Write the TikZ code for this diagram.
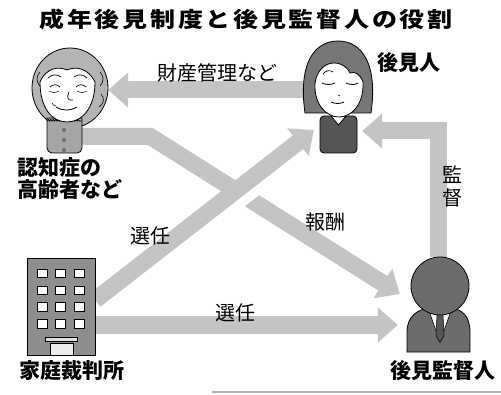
\documentclass[tikz,border=0pt]{standalone}
\usepackage{fontspec}
\setmainfont{Noto Sans CJK JP}
\usetikzlibrary{arrows.meta,positioning,decorations.pathmorphing}
\definecolor{arrowgray}{HTML}{C4C4C4}
\definecolor{hairgray}{HTML}{B4B4B4}
\definecolor{bodygray}{HTML}{A6A6A6}
\definecolor{darkhair}{HTML}{767676}
\definecolor{suitdark}{HTML}{555555}
\definecolor{courtgray}{HTML}{8E8E8E}
\definecolor{mangray}{HTML}{6C6C6C}
\tikzset{
  fatarrow/.style={line width=17pt,draw=arrowgray,line join=miter,-{Triangle[width=34pt,length=20pt]}},
  figbox/.style={inner sep=0pt,draw=none},
  namelabel/.style={font=\bfseries\fontsize{21}{22}\selectfont,inner sep=0pt},
  flowlabel/.style={font=\fontsize{20}{23}\selectfont,inner sep=0pt},
  titletext/.style={font=\bfseries\fontsize{25}{27}\selectfont\addfontfeature{LetterSpace=11},inner sep=0pt},
  outline/.style={draw=black,line width=0.8pt}
}

\begin{document}
\begin{tikzpicture}[x=1pt,y=1pt]
  \useasboundingbox (0,0) rectangle (501,394);

  % title
  \node[titletext] (title) at (246,375) {\scalebox{1}[0.85]{成年後見制度と後見監督人の役割}};

  % places of the four figures
  \node[figbox,minimum width=76pt,minimum height=106pt] (senior) at (70,294) {};
  \node[figbox,minimum width=35pt,minimum height=33pt] (seniorbody) at (64.5,257.5) {};
  \node[figbox,minimum width=69pt,minimum height=111pt] (guardian) at (337.5,296.5) {};
  \node[figbox,minimum width=37pt,minimum height=36pt] (guardianbody) at (338.5,259) {};
  \node[figbox,minimum width=68pt,minimum height=97pt] (court) at (61,87.5) {};
  \node[figbox,minimum width=63pt,minimum height=95pt] (supervisor) at (438.5,89.5) {};

  % arrows
  \draw[fatarrow] ([yshift=7.5pt]guardian.west) -- ([yshift=10pt]senior.east);
  \draw[fatarrow] (seniorbody.east) -- ++(68,0) -- ([xshift=-7pt,yshift=10.5pt]supervisor.west);
  \draw[line width=24pt,white] ([xshift=110pt,yshift=85pt]court.east) -- ([xshift=175pt,yshift=135pt]court.east);
  \draw[fatarrow] ([yshift=6.5pt]court.east) -- ([xshift=-6pt,yshift=5pt]guardianbody.west);
  \draw[fatarrow] ([yshift=-18.5pt]court.east) -- ([xshift=-9pt,yshift=-20.5pt]supervisor.west);
  \draw[fatarrow] (supervisor.north) |- ([xshift=5pt,yshift=4pt]guardianbody.east);

  % elderly woman
  \draw[outline,fill=hairgray] (70,306) ellipse [x radius=38pt,y radius=40pt];
  \draw[line width=0.6pt] (100,322) .. controls (104,318) and (104,312) .. (100,308);
  \draw[line width=0.6pt] (101,300) .. controls (105,296) and (104,290) .. (99,287);
  \draw[line width=0.6pt] (40,322) .. controls (36,318) and (36,312) .. (40,308);
  \draw[outline,fill=bodygray] (47,276) [rounded corners=5pt] -- (47,241) -- (82,241) [sharp corners] -- (82,276) -- cycle;
  \draw[outline,fill=bodygray,decorate,decoration={bumps,segment length=5pt,amplitude=1.5pt}] (47,273) -- (82,273);
  \foreach \y in {264,254,244}
    \draw[fill=white,line width=0.5pt] (64,\y) circle [radius=1.6pt];
  \draw[outline,fill=white] (40,312) .. controls (40,286) and (52,272) .. (67,272)
    .. controls (82,272) and (95,286) .. (95,312) .. controls (88,326) and (76,328) .. (67,324)
    .. controls (58,328) and (46,326) .. (40,312) -- cycle;
  \draw[line width=0.7pt] (48,316) .. controls (52,320) and (57,320) .. (61,317);
  \draw[line width=0.7pt] (74,317) .. controls (78,320) and (83,320) .. (87,316);
  \draw[line width=0.7pt] (50,307) .. controls (53,310) and (57,310) .. (60,307);
  \draw[line width=0.7pt] (76,307) .. controls (79,310) and (83,310) .. (86,307);
  \draw[line width=0.5pt] (49,303) .. controls (52,301) and (56,301) .. (59,303);
  \draw[line width=0.5pt] (77,303) .. controls (80,301) and (84,301) .. (87,303);
  \draw[line width=0.7pt] (69,302) .. controls (66,296) and (68,293) .. (73,294);
  \draw[line width=0.8pt] (56,287) .. controls (62,283) and (70,283) .. (77,287);
  \draw[line width=0.5pt] (52,291) .. controls (53,289) and (54,288) .. (56,288);

  % guardian
  \draw[outline,fill=darkhair] (305,281) .. controls (298,330) and (314,353) .. (338,353)
    .. controls (362,353) and (378,330) .. (371,281) -- cycle;
  \draw[outline,fill=suitdark,rounded corners=4pt] (320,241) rectangle (357,278);
  \draw[outline,fill=white] (331,278) -- (338.5,269) -- (346,278) -- cycle;
  \draw[outline,fill=white] (315,310) .. controls (316,322) and (324,331) .. (334,331)
    .. controls (342,331) and (348,326) .. (350,321) .. controls (355,323) and (360,320) .. (363,312)
    .. controls (364,290) and (352,277) .. (339,277) .. controls (326,277) and (314,290) .. (315,310) -- cycle;
  \draw[line width=0.7pt] (323,320) .. controls (326,324) and (330,324) .. (333,322);
  \draw[line width=0.8pt] (322,311) .. controls (326,309) and (331,309) .. (335,311);
  \draw[line width=0.8pt] (346,311) .. controls (350,309) and (355,309) .. (358,311);
  \draw[line width=0.6pt] (338,299) -- (340,298);
  \draw[line width=0.8pt] (331,292) .. controls (335,290) and (340,290) .. (344,292);

  % family court building
  \draw[outline,fill=courtgray] (27,39) rectangle (95,136);
  \foreach \c in {0,1,2}
    \foreach \r in {0,1,2,3}
      \draw[line width=0.6pt,fill=white] (37+18.5*\c,66+16.8*\r) rectangle ++(10,8.5);
  \draw[line width=0.5pt,fill=gray!25] (45,53) rectangle (77,57);
  \draw[line width=0.5pt,fill=gray!15] (50,39) rectangle (73,51);

  % supervisor
  \draw[outline,fill=mangray] (407,42) -- (407,62) .. controls (407,78) and (418,85) .. (430,86)
    -- (450,86) .. controls (462,85) and (470,78) .. (470,62) -- (470,42) -- cycle;
  \draw[line width=0.6pt,fill=white] (428,86) -- (440,52) -- (452,86) -- cycle;
  \draw[line width=0.5pt,fill=suitdark] (437,80) -- (443,80) -- (444,58) -- (440,52) -- (436,58) -- cycle;
  \draw[outline,fill=mangray] (440,108) circle [radius=29pt];

  % names
  \node[namelabel,anchor=west,align=left] (seniorname) at (17,215) {認知症の\\高齢者など};
  \node[namelabel] (guardianname) at (409,331) {後見人};
  \node[namelabel] (courtname) at (72,23) {家庭裁判所};
  \node[namelabel] (supername) at (443,23) {後見監督人};

  % arrow labels
  \node[flowlabel] (zaisan) at (217,321) {財産管理など};
  \node[flowlabel] (houshu) at (325,172) {報酬};
  \node[flowlabel] (senninup) at (150,158) {選任};
  \node[flowlabel] (sennin) at (235,81) {選任};
  \node[flowlabel,align=center] (kantoku) at (452,208) {監\\督};

  % rule at the foot
  \draw[line width=1.2pt,gray!60] (212,2) -- (501,2);
\end{tikzpicture}
\end{document}
